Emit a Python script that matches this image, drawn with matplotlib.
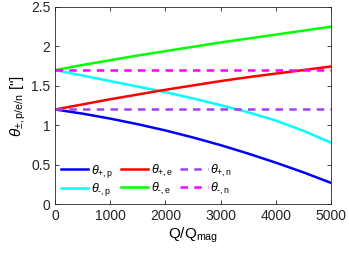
import numpy as np
import matplotlib
matplotlib.use("Agg")
import matplotlib.pyplot as plt

plt.rcParams['font.family'] = ['Liberation Sans', 'DejaVu Sans']
plt.rcParams['mathtext.fontset'] = 'custom'
plt.rcParams['mathtext.rm'] = 'Liberation Sans'
plt.rcParams['mathtext.it'] = 'Liberation Sans:italic'

# values
q = [0, 500, 1000, 1500, 2000, 2500, 3000, 3500, 4000, 4500, 5000]
theta_pp = [1.200, 1.147, 1.084, 1.013, 0.934, 0.845, 0.748, 0.641, 0.526, 0.403, 0.270]
theta_mp = [1.700, 1.630, 1.560, 1.490, 1.420, 1.340, 1.255, 1.165, 1.060, 0.930, 0.780]
theta_pe = [1.200, 1.265, 1.330, 1.390, 1.450, 1.505, 1.560, 1.610, 1.655, 1.700, 1.745]
theta_me = [1.700, 1.765, 1.825, 1.885, 1.940, 1.995, 2.050, 2.100, 2.150, 2.200, 2.250]
theta_pn = [1.20] * len(q)
theta_mn = [1.70] * len(q)

fig = plt.figure(figsize=(3.49, 2.59), dpi=100)
ax = fig.add_axes([0.158, 0.212, 0.79, 0.761])

lw = 1.8
ax.plot(q, theta_pp, color='#0000ff', lw=lw, label=r'$\theta_{+,\mathrm{p}}$')
ax.plot(q, theta_mp, color='#00ffff', lw=lw, label=r'$\theta_{\text{-},\mathrm{p}}$')
ax.plot(q, theta_pe, color='#ff0000', lw=lw, label=r'$\theta_{+,\mathrm{e}}$')
ax.plot(q, theta_me, color='#00ff00', lw=lw, label=r'$\theta_{\text{-},\mathrm{e}}$')
ax.plot(q, theta_pn, color='#a040f0', lw=lw, ls=(0, (3, 2.5)), label=r'$\theta_{+,\mathrm{n}}$')
ax.plot(q, theta_mn, color='#ff00ff', lw=lw, ls=(0, (3, 2.5)), label=r'$\theta_{\text{-},\mathrm{n}}$')

ax.set_xlim(0, 5000)
ax.set_ylim(0, 2.5)
ax.set_xticks([0, 1000, 2000, 3000, 4000, 5000])
ax.set_yticks([0, 0.5, 1, 1.5, 2, 2.5])
ax.set_yticklabels(['0', '0.5', '1', '1.5', '2', '2.5'])
ax.tick_params(direction='in', length=3, width=0.6, labelsize=10, colors='#262626',
               top=True, right=True)
for s in ax.spines.values():
    s.set_color('#262626')
    s.set_linewidth(0.6)

ax.set_xlabel(r'Q/Q$_{\mathrm{mag}}$', fontsize=11, labelpad=2)
ax.set_ylabel(r'$\theta_{\pm,\mathrm{p/e/n}}$ ["]', fontsize=11, labelpad=2)

ax.legend(ncol=3, loc='lower left', frameon=False, fontsize=9,
          handlelength=2.2, columnspacing=0.6, handletextpad=0.2,
          labelspacing=0.15, borderaxespad=0.15, borderpad=0.3)

plt.savefig("out.png", dpi=100)
